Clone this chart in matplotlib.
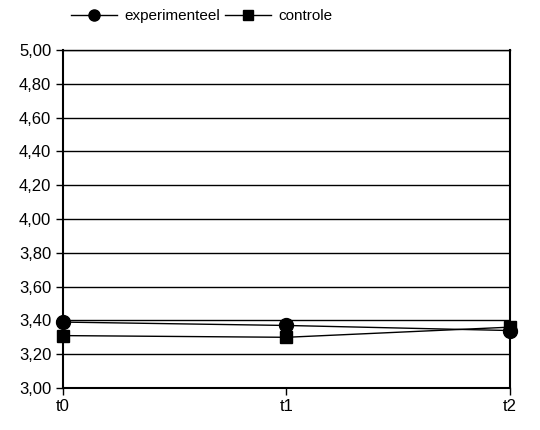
import matplotlib
matplotlib.use("Agg")
import matplotlib.pyplot as plt
from matplotlib.ticker import FuncFormatter

plt.rcParams['font.family'] = ['Liberation Sans', 'DejaVu Sans']

# === Dati ===
momenti = ["t0", "t1", "t2"]
experimenteel = [3.39, 3.37, 3.34]
controle = [3.31, 3.30, 3.36]
y_ticks = [3.00, 3.20, 3.40, 3.60, 3.80, 4.00, 4.20, 4.40, 4.60, 4.80, 5.00]

fig = plt.figure(figsize=(5.4, 4.3), dpi=100)
ax = fig.add_axes([0.1167, 0.0977, 0.8277, 0.786])

x = list(range(len(momenti)))
ax.plot(x, experimenteel, color="black", lw=1, marker="o", ms=10, label="experimenteel", zorder=3, clip_on=False)
ax.plot(x, controle, color="black", lw=1, marker="s", ms=9, label="controle", zorder=3, clip_on=False)

ax.set_xlim(0, 2)
ax.set_ylim(3.0, 5.0)
ax.set_xticks(x)
ax.set_xticklabels(momenti)
ax.set_yticks(y_ticks)
ax.yaxis.set_major_formatter(FuncFormatter(lambda v, p: f"{v:.2f}".replace(".", ",")))
ax.grid(axis="y", color="black", lw=1)
ax.set_axisbelow(True)

for s in ["left", "bottom", "right"]:
    ax.spines[s].set_linewidth(1.5)
ax.spines["top"].set_linewidth(1)
ax.tick_params(axis="both", labelsize=12, direction="out", length=5, width=1)
ax.tick_params(axis="x", pad=3)

ax.legend(loc="center left", bbox_to_anchor=(0.018, 1.1), ncol=2, frameon=False,
          handlelength=3.0, handletextpad=0.5, columnspacing=0.3, fontsize=11,
          markerscale=0.8, borderaxespad=0, borderpad=0)

fig.savefig("out.png", dpi=100)
